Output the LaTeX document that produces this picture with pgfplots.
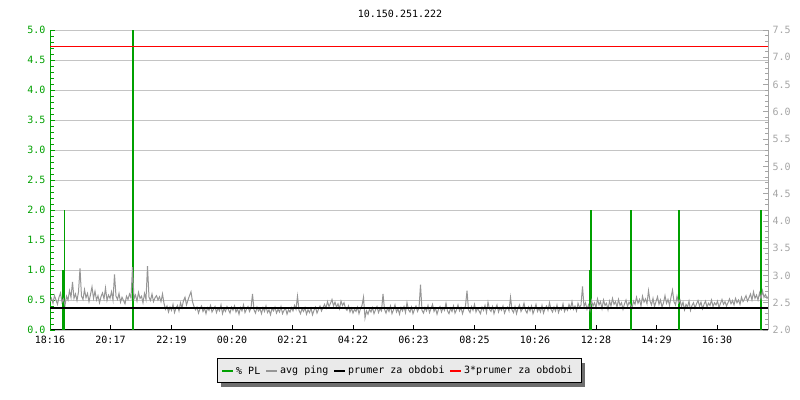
\documentclass[border=0pt]{standalone}
\usepackage{pgfplots}
\pgfplotsset{compat=1.18}
\usepackage{fontspec}
\setmainfont{DejaVu Sans Mono}
\definecolor{plgreen}{RGB}{0,160,0}
\definecolor{pinggrey}{RGB}{150,150,150}
\definecolor{gridgrey}{RGB}{196,196,196}
\definecolor{rightgrey}{RGB}{165,165,165}
\definecolor{legbg}{RGB}{234,234,234}
\definecolor{shadow}{RGB}{110,110,110}
\begin{document}
\fontsize{10bp}{12bp}\selectfont
\begin{tikzpicture}
\path[use as bounding box] (0,0) rectangle (800bp,400bp);
% left axis: packet loss
\begin{axis}[
  at={(50bp,70bp)}, anchor=south west,
  scale only axis, width=718bp, height=300bp,
  xmin=0, xmax=1436, ymin=0, ymax=5,
  axis x line*=bottom, axis y line*=left,
  x axis line style={-, black, line width=1bp},
  y axis line style={-, plgreen, line width=1bp},
  tick align=inside,
  major tick length=5bp, minor tick length=3.5bp,
  xtick={0,121,243,364,485,606,727,849,970,1092,1213,1334},
  xticklabels={18:16,20:17,22:19,00:20,02:21,04:22,06:23,08:25,10:26,12:28,14:29,16:30},
  xtick style={black, line width=0.8bp},
  xticklabel style={black, yshift=-3bp},
  ytick={0,0.5,1,1.5,2,2.5,3,3.5,4,4.5,5},
  minor y tick num=4,
  ytick style={plgreen, line width=0.8bp},
  minor y tick style={plgreen},
  yticklabel style={plgreen, xshift=-1bp},
  /pgf/number format/assume math mode=true,
  /pgf/number format/.cd, fixed, fixed zerofill, precision=1,
  /pgfplots/.cd,
  ymajorgrids, grid style={gridgrey, line width=0.9bp},
  minor grid style={draw=none},
]
\addplot[ycomb, plgreen, line width=1.1bp, mark=none] coordinates {(29,2) (166,5) (1082,2) (1162,2) (1258,2) (1422,2)};
\addplot[ycomb, plgreen, line width=2.6bp, mark=none] coordinates {(27,1) (166,2.5) (1081,1) (1162,1) (1258,1) (1422,1)};
\end{axis}
% right axis: ping
\begin{axis}[
  at={(50bp,70bp)}, anchor=south west,
  scale only axis, width=718bp, height=300bp,
  xmin=0, xmax=1436, ymin=2, ymax=7.5,
  axis x line=none, axis y line*=right,
  y axis line style={-, rightgrey, line width=1bp},
  tick align=inside,
  major tick length=5bp, minor tick length=3.5bp,
  ytick={2,2.5,3,3.5,4,4.5,5,5.5,6,6.5,7,7.5},
  minor y tick num=4,
  ytick style={rightgrey, line width=0.8bp},
  minor y tick style={rightgrey},
  yticklabel style={rightgrey, xshift=1bp},
  /pgf/number format/assume math mode=true,
  /pgf/number format/.cd, fixed, fixed zerofill, precision=1,
  /pgfplots/.cd,
]
\addplot[pinggrey, line width=1bp, mark=none] coordinates {
(0,2.52) (3,2.58) (6,2.49) (9,2.63) (12,2.55) (15,2.47) (18,2.60) (21,2.68) (24,2.51) (27,2.57)
(30,2.45) (33,2.62) (36,2.55) (39,2.72) (42,2.60) (45,2.88) (48,2.58) (51,2.66) (54,2.54) (57,2.70)
(60,3.13) (63,2.62) (66,2.56) (69,2.74) (72,2.59) (75,2.67) (78,2.52) (81,2.65) (84,2.79) (87,2.58)
(90,2.71) (93,2.55) (96,2.63) (99,2.50) (102,2.61) (105,2.68) (108,2.57) (111,2.77) (114,2.54) (117,2.64)
(120,2.58) (123,2.70) (126,2.55) (129,3.02) (132,2.62) (135,2.56) (138,2.67) (141,2.51) (144,2.60) (147,2.54)
(150,2.48) (153,2.62) (156,2.56) (159,2.66) (162,2.59) (165,3.15) (168,2.57) (171,2.64) (174,2.53) (177,2.69)
(180,2.58) (183,2.62) (186,2.50) (189,2.67) (192,2.56) (195,3.17) (198,2.60) (201,2.54) (204,2.66) (207,2.52)
(210,2.59) (213,2.63) (216,2.55) (219,2.61) (222,2.52) (225,2.66) (228,2.49)
(231,2.38) (234,2.44) (237,2.33) (240,2.42) (243,2.36) (246,2.47) (249,2.32) (252,2.40) (255,2.45) (258,2.35)
(261,2.50) (264,2.41) (267,2.54) (270,2.60) (273,2.46) (276,2.55) (279,2.63) (282,2.70) (285,2.52) (288,2.43)
(291,2.37) (294,2.42) (297,2.31) (300,2.39) (303,2.44) (306,2.34) (309,2.40) (312,2.30) (315,2.41) (318,2.36)
(321,2.45) (324,2.33) (327,2.38) (330,2.43) (333,2.32) (336,2.40) (339,2.35) (342,2.46) (345,2.30) (348,2.39)
(351,2.34) (354,2.43) (357,2.37) (360,2.31) (363,2.42) (366,2.36) (369,2.44) (372,2.33) (375,2.39) (378,2.29)
(381,2.41) (384,2.35) (387,2.46) (390,2.32) (393,2.38) (396,2.43) (399,2.34) (402,2.40) (405,2.66) (408,2.37)
(411,2.31) (414,2.42) (417,2.35) (420,2.39) (423,2.30) (426,2.41) (429,2.34) (432,2.44) (435,2.32) (438,2.37)
(441,2.28) (444,2.40) (447,2.35) (450,2.42) (453,2.31) (456,2.38) (459,2.33) (462,2.43) (465,2.30) (468,2.36)
(471,2.40) (474,2.29) (477,2.37) (480,2.33) (483,2.41) (486,2.35) (489,2.45) (492,2.38) (495,2.62) (498,2.36)
(501,2.30) (504,2.39) (507,2.34) (510,2.41) (513,2.29) (516,2.37) (519,2.32) (522,2.40) (525,2.28) (528,2.36)
(531,2.42) (534,2.31) (537,2.38) (540,2.44) (543,2.35) (546,2.41) (549,2.47) (552,2.40) (555,2.52) (558,2.43)
(561,2.49) (564,2.56) (567,2.44) (570,2.51) (573,2.42) (576,2.48) (579,2.39) (582,2.53) (585,2.45) (588,2.50)
(591,2.40) (594,2.36) (597,2.44) (600,2.33) (603,2.40) (606,2.31) (609,2.38) (612,2.34) (615,2.42) (618,2.30)
(621,2.39) (624,2.45) (627,2.60) (630,2.22) (633,2.35) (636,2.29) (639,2.38) (642,2.33) (645,2.41) (648,2.30)
(651,2.37) (654,2.43) (657,2.32) (660,2.39) (663,2.35) (666,2.66) (669,2.38) (672,2.31) (675,2.40) (678,2.34)
(681,2.44) (684,2.30) (687,2.37) (690,2.46) (693,2.33) (696,2.39) (699,2.29) (702,2.41) (705,2.35) (708,2.43)
(711,2.32) (714,2.50) (717,2.37) (720,2.33) (723,2.42) (726,2.30) (729,2.38) (732,2.44) (735,2.34) (738,2.40)
(741,2.83) (744,2.36) (747,2.31) (750,2.41) (753,2.35) (756,2.45) (759,2.32) (762,2.39) (765,2.47) (768,2.34)
(771,2.40) (774,2.29) (777,2.38) (780,2.43) (783,2.33) (786,2.41) (789,2.36) (792,2.49) (795,2.35) (798,2.30)
(801,2.40) (804,2.34) (807,2.44) (810,2.31) (813,2.37) (816,2.46) (819,2.35) (822,2.41) (825,2.30) (828,2.39)
(831,2.44) (834,2.72) (837,2.37) (840,2.32) (843,2.43) (846,2.36) (849,2.47) (852,2.33) (855,2.40) (858,2.35)
(861,2.30) (864,2.42) (867,2.36) (870,2.45) (873,2.32) (876,2.51) (879,2.38) (882,2.34) (885,2.43) (888,2.30)
(891,2.39) (894,2.46) (897,2.33) (900,2.41) (903,2.36) (906,2.44) (909,2.31) (912,2.38) (915,2.42) (918,2.35)
(921,2.60) (924,2.37) (927,2.32) (930,2.43) (933,2.30) (936,2.40) (939,2.46) (942,2.34) (945,2.39) (948,2.49)
(951,2.36) (954,2.31) (957,2.42) (960,2.35) (963,2.44) (966,2.30) (969,2.38) (972,2.47) (975,2.34) (978,2.40)
(981,2.33) (984,2.45) (987,2.31) (990,2.39) (993,2.44) (996,2.36) (999,2.50) (1002,2.38) (1005,2.33) (1008,2.42)
(1011,2.35) (1014,2.46) (1017,2.32) (1020,2.40) (1023,2.37) (1026,2.48) (1029,2.34) (1032,2.41) (1035,2.36) (1038,2.47)
(1041,2.39) (1044,2.52) (1047,2.38) (1050,2.44) (1053,2.35) (1056,2.49) (1059,2.41) (1062,2.46) (1065,2.80) (1068,2.43)
(1071,2.50) (1074,2.38)
(1077,2.46) (1080,2.36) (1083,2.54) (1086,2.44) (1089,2.50) (1092,2.41) (1095,2.57) (1098,2.46) (1101,2.52) (1104,2.39)
(1107,2.55) (1110,2.45) (1113,2.49) (1116,2.37) (1119,2.53) (1122,2.44) (1125,2.58) (1128,2.47) (1131,2.52) (1134,2.42)
(1137,2.56) (1140,2.45) (1143,2.50) (1146,2.38) (1149,2.48) (1152,2.55) (1155,2.43) (1158,2.51) (1161,2.46) (1164,2.40)
(1167,2.53) (1170,2.47) (1173,2.60) (1176,2.49) (1179,2.56) (1182,2.44) (1185,2.62) (1188,2.51) (1191,2.57) (1194,2.48)
(1197,2.72) (1200,2.53) (1203,2.46) (1206,2.58) (1209,2.43) (1212,2.52) (1215,2.61) (1218,2.47) (1221,2.55) (1224,2.42)
(1227,2.50) (1230,2.63) (1233,2.49) (1236,2.56) (1239,2.45) (1242,2.60) (1245,2.73) (1248,2.52) (1251,2.46) (1254,2.62)
(1257,2.50) (1260,2.55) (1263,2.43) (1266,2.51) (1269,2.37) (1272,2.47) (1275,2.42) (1278,2.53) (1281,2.36) (1284,2.45)
(1287,2.50) (1290,2.40) (1293,2.48) (1296,2.54) (1299,2.44) (1302,2.51) (1305,2.39) (1308,2.47) (1311,2.53) (1314,2.42)
(1317,2.49) (1320,2.45) (1323,2.55) (1326,2.43) (1329,2.50) (1332,2.46) (1335,2.53) (1338,2.41) (1341,2.49) (1344,2.56)
(1347,2.47) (1350,2.52) (1353,2.44) (1356,2.50) (1359,2.57) (1362,2.48) (1365,2.54) (1368,2.46) (1371,2.58) (1374,2.50)
(1377,2.55) (1380,2.47) (1383,2.60) (1386,2.52) (1389,2.57) (1392,2.63) (1395,2.53) (1398,2.59) (1401,2.66) (1404,2.55)
(1407,2.70) (1410,2.58) (1413,2.64) (1416,2.55) (1419,2.68) (1422,2.57) (1425,2.72) (1428,2.60) (1431,2.65) (1434,2.58)
(1436,2.61)
};
\addplot[black, line width=2.6bp, mark=none] coordinates {(0,2.40) (1436,2.40)};
\addplot[red, line width=1.3bp, mark=none] coordinates {(0,7.2) (1436,7.2)};
\end{axis}
% title
\node at (400bp,386bp) {10.150.251.222};
% legend
\fill[shadow] (221bp,13bp) rectangle (585bp,37bp);
\draw[fill=legbg, line width=1bp] (217bp,17bp) rectangle (581bp,41bp);
\draw[plgreen, line width=2bp] (222bp,28.5bp) -- (233bp,28.5bp);
\node[anchor=west, inner sep=0pt] at (236bp,29bp) {\% PL};
\draw[pinggrey, line width=2bp] (266bp,28.5bp) -- (277bp,28.5bp);
\node[anchor=west, inner sep=0pt] at (280bp,29bp) {avg ping};
\draw[black, line width=2bp] (334bp,28.5bp) -- (345bp,28.5bp);
\node[anchor=west, inner sep=0pt] at (348bp,29bp) {prumer za obdobi};
\draw[red, line width=2bp] (450bp,28.5bp) -- (461bp,28.5bp);
\node[anchor=west, inner sep=0pt] at (464bp,29bp) {3*prumer za obdobi};
\end{tikzpicture}
\end{document}
